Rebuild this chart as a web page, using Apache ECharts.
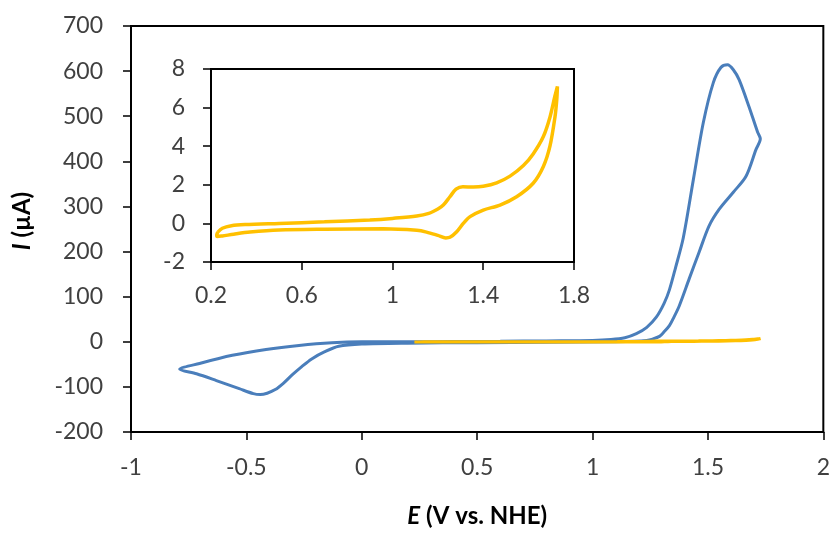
<!DOCTYPE html>
<html>
<head>
<meta charset="utf-8">
<script src="https://cdn.jsdelivr.net/npm/echarts@6/dist/echarts.min.js"></script>
<style>
  html, body { margin: 0; padding: 0; background: #fff; }
  #chart { width: 833px; height: 533px; }
</style>
</head>
<body>
<div id="chart"></div>
<script>
// 蓝色曲线：E (V) 与 I (µA)
var blueE = [0.2, 0.4, 0.6, 0.8, 1.0, 1.08, 1.14, 1.19, 1.235, 1.277, 1.31, 1.333, 1.36, 1.393, 1.437, 1.48, 1.523, 1.556, 1.585, 1.61, 1.635, 1.678, 1.715, 1.727,
             1.708, 1.665, 1.609, 1.549, 1.505, 1.462, 1.419, 1.376, 1.35, 1.333, 1.31, 1.29, 1.26, 1.234, 1.18, 1.1, 0.8, 0.5, 0.2, 0.0,
             -0.1, -0.16, -0.217, -0.26, -0.303, -0.34, -0.375, -0.41, -0.44, -0.47, -0.531, -0.63, -0.716, -0.789,
             -0.703, -0.561, -0.415, -0.272, -0.13, 0.0, 0.2];
var blueI = [0, 0.5, 1, 2, 3, 5, 9, 18, 32, 55, 85, 115, 165, 230, 360, 486, 574, 608, 614, 603, 581, 521, 465, 450,
             426, 367, 331, 294, 257, 199, 140, 80, 52, 36, 22, 12, 6, 3, 1, 0, -1, -2, -3, -5,
             -10, -22, -38, -55, -74, -92, -106, -114, -117, -115, -104, -86, -71, -61,
             -48, -30, -17, -8, -2, 0, 0];

// 黄色曲线（同时用于主图和插图）
var yellowE = [0.23, 0.25, 0.29, 0.35, 0.5, 0.7, 0.9, 1.0, 1.107, 1.16, 1.2, 1.224, 1.253, 1.28, 1.31, 1.356, 1.4, 1.459, 1.518, 1.577, 1.62, 1.665, 1.694, 1.716, 1.727,
               1.724, 1.716, 1.694, 1.665, 1.62, 1.547, 1.474, 1.4, 1.342, 1.312, 1.283, 1.253, 1.235, 1.2, 1.15, 1.107, 0.96, 0.7, 0.5, 0.372, 0.3, 0.25, 0.228, 0.225, 0.23];
var yellowI = [-0.45, -0.25, -0.12, -0.06, 0.0, 0.08, 0.18, 0.26, 0.38, 0.52, 0.75, 0.95, 1.38, 1.77, 1.9, 1.88, 1.92, 2.1, 2.45, 3.0, 3.6, 4.5, 5.5, 6.6, 7.1,
               6.4, 5.5, 4.0, 2.95, 2.08, 1.38, 0.95, 0.69, 0.35, 0.0, -0.43, -0.72, -0.75, -0.62, -0.45, -0.36, -0.28, -0.3, -0.34, -0.45, -0.56, -0.65, -0.68, -0.6, -0.45];

var insetTicks = [0.2, 0.6, 1, 1.4, 1.8];

function pairs(xs, ys) {
    return xs.map(function (x, i) { return [x, ys[i]]; });
}

var font = 'Lato, "Open Sans", sans-serif';
var labelStyle = { color: '#404040', fontSize: 23, fontFamily: font };
var titleStyle = { fontSize: 24, fontWeight: 'bold', color: '#000', fontFamily: font };

var chart = echarts.init(document.getElementById('chart'));
chart.setOption({
    animation: false,
    grid: [
        { left: 131, right: 6, top: 26, bottom: 99, show: true, borderColor: '#000', borderWidth: 2 },
        { left: 211, top: 69, width: 363, height: 193, show: true, borderColor: '#000', borderWidth: 2, backgroundColor: '#fff' }
    ],
    xAxis: [{
        gridIndex: 0, type: 'value', min: -1, max: 2, interval: 0.5,
        name: '{i|E} (V vs. NHE)', nameLocation: 'middle', nameGap: 72,
        nameTextStyle: Object.assign({ rich: { i: Object.assign({ fontStyle: 'italic' }, titleStyle) } }, titleStyle),
        axisLine: { onZero: false, lineStyle: { color: '#000', width: 2 } },
        axisTick: { length: 8, lineStyle: { color: '#000', width: 1.5 } },
        axisLabel: Object.assign({ margin: 24 }, labelStyle),
        splitLine: { show: false }
    }, {
        gridIndex: 1, type: 'value', min: 0.2, max: 1.8,
        axisLine: { onZero: false, lineStyle: { color: '#000', width: 2 } },
        axisTick: { length: 8, customValues: insetTicks, lineStyle: { color: '#000', width: 1.5 } },
        axisLabel: Object.assign({ margin: 22, customValues: insetTicks }, labelStyle),
        splitLine: { show: false }
    }],
    yAxis: [{
        gridIndex: 0, type: 'value', min: -200, max: 700, interval: 100,
        name: '{i|I} (µA)', nameLocation: 'middle', nameGap: 97,
        nameTextStyle: Object.assign({ padding: [0, 0, 0, 16], rich: { i: Object.assign({ fontStyle: 'italic' }, titleStyle) } }, titleStyle),
        axisLine: { show: true, onZero: false, lineStyle: { color: '#000', width: 2 } },
        axisTick: { show: true, length: 8, lineStyle: { color: '#000', width: 1.5 } },
        axisLabel: Object.assign({ margin: 28 }, labelStyle),
        splitLine: { show: false }
    }, {
        gridIndex: 1, type: 'value', min: -2, max: 8, interval: 2,
        axisLine: { show: true, onZero: false, lineStyle: { color: '#000', width: 2 } },
        axisTick: { show: true, length: 8, lineStyle: { color: '#000', width: 1.5 } },
        axisLabel: Object.assign({ margin: 26 }, labelStyle),
        splitLine: { show: false }
    }],
    series: [{
        type: 'line', xAxisIndex: 0, yAxisIndex: 0,
        data: pairs(blueE, blueI), showSymbol: false, smooth: 0.3,
        lineStyle: { color: '#4a7ebb', width: 3 }
    }, {
        type: 'line', xAxisIndex: 0, yAxisIndex: 0,
        data: pairs(yellowE, yellowI), showSymbol: false, smooth: 0.3,
        lineStyle: { color: '#ffc000', width: 3 }
    }, {
        type: 'line', xAxisIndex: 1, yAxisIndex: 1,
        data: pairs(yellowE, yellowI), showSymbol: false, smooth: 0.3,
        lineStyle: { color: '#ffc000', width: 3.5 }
    }]
});
</script>
</body>
</html>
